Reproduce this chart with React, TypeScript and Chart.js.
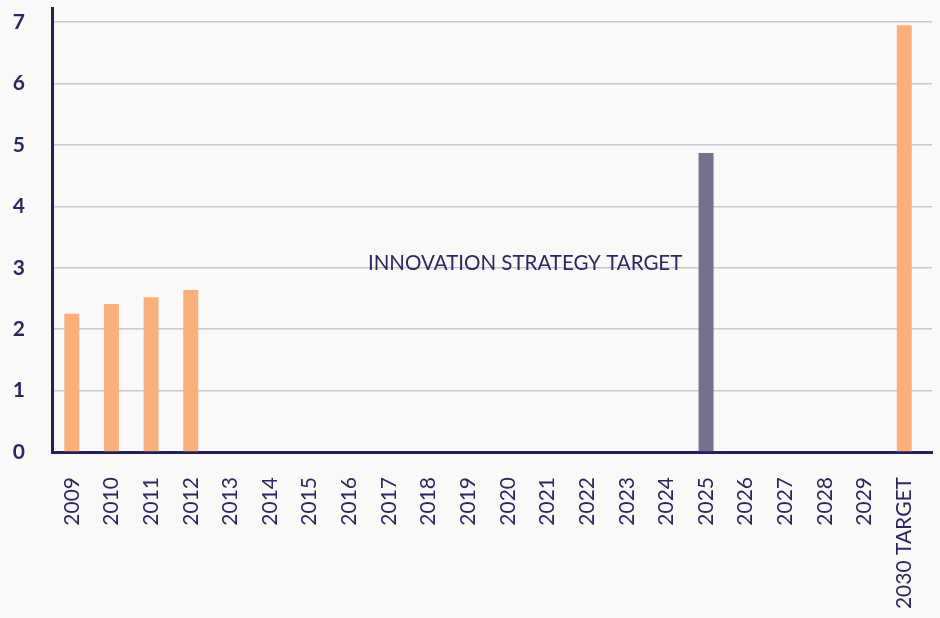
import React, { useEffect, useRef } from "react";
import { Chart, registerables } from "chart.js";

Chart.register(...registerables);

const CATEGORIES = [
  "2009", "2010", "2011", "2012", "2013", "2014", "2015", "2016", "2017", "2018", "2019",
  "2020", "2021", "2022", "2023", "2024", "2025", "2026", "2027", "2028", "2029", "2030 TARGET",
];
const VALUES: (number | null)[] = [
  2.25, 2.41, 2.52, 2.64, null, null, null, null, null, null, null,
  null, null, null, null, null, 4.87, null, null, null, null, 6.95,
];
const HIGHLIGHT_CATEGORY = "2025";
const Y_TICKS = [0, 1, 2, 3, 4, 5, 6, 7];
const ANNOTATION_TEXT = "INNOVATION STRATEGY TARGET";

const ORANGE = "#F9B07A";
const PURPLE = "#76708F";
const NAVY = "#23215A";
const TEXT = "#2B2860";
const GRID = "#C9C6D8";
const BG = "#FAF9F7";
const FONT = "Lato, 'Open Sans', sans-serif";

const annotationPlugin = {
  id: "annotationText",
  afterDatasetsDraw(chart: any) {
    const { ctx, scales } = chart;
    const x = scales.x.getPixelForValue(7.47);
    const y = scales.y.getPixelForValue(3.07);
    ctx.save();
    ctx.font = `normal 20.5px ${FONT}`;
    ctx.fillStyle = TEXT;
    ctx.textAlign = "left";
    ctx.textBaseline = "middle";
    ctx.fillText(ANNOTATION_TEXT, x, y);
    ctx.restore();
  },
};

export default function App() {
  const ref = useRef<HTMLCanvasElement>(null);
  useEffect(() => {
    document.body.style.margin = "0";
    document.body.style.background = BG;
    const chart = new Chart(ref.current!, {
      type: "bar",
      data: {
        labels: CATEGORIES,
        datasets: [
          {
            data: VALUES,
            backgroundColor: CATEGORIES.map((c) => (c === HIGHLIGHT_CATEGORY ? PURPLE : ORANGE)),
            barPercentage: 0.378,
            categoryPercentage: 1,
          },
        ],
      },
      options: {
        responsive: false,
        animation: false,
        devicePixelRatio: 1,
        layout: { padding: { top: 8, right: 8, left: 0, bottom: 0 } },
        plugins: { legend: { display: false }, tooltip: { enabled: false } },
        scales: {
          x: {
            grid: { display: false, drawTicks: false },
            border: { display: true, color: NAVY, width: 3 },
            afterBuildTicks: (s: any) => {
              s._valueRange = CATEGORIES.length + 0.2;
            },
            ticks: {
              minRotation: 90,
              maxRotation: 90,
              autoSkip: false,
              padding: 25,
              color: TEXT,
              font: { family: FONT, size: 21, weight: "normal" },
            },
            afterFit: (s: any) => {
              s.height = 166;
              s.paddingLeft = 0;
              s.paddingRight = 0;
            },
          },
          y: {
            min: 0,
            max: 7.23,
            afterBuildTicks: (axis: any) => {
              axis.ticks = Y_TICKS.map((v) => ({ value: v }));
            },
            ticks: {
              padding: 27,
              color: TEXT,
              font: { family: FONT, size: 21, weight: "bold" },
            },
            grid: {
              drawTicks: false,
              lineWidth: 1.5,
              color: (c: any) => (c.tick && c.tick.value === 0 ? "rgba(0,0,0,0)" : GRID),
            },
            border: { display: true, color: NAVY, width: 3 },
            afterFit: (s: any) => {
              s.width = 52;
              s.paddingTop = 0;
              s.paddingBottom = 0;
            },
          },
        },
      },
      plugins: [annotationPlugin],
    });
    return () => chart.destroy();
  }, []);
  return (
    <div style={{ width: 940, height: 618, background: BG }}>
      <canvas ref={ref} width={940} height={618} style={{ display: "block" }} />
    </div>
  );
}
